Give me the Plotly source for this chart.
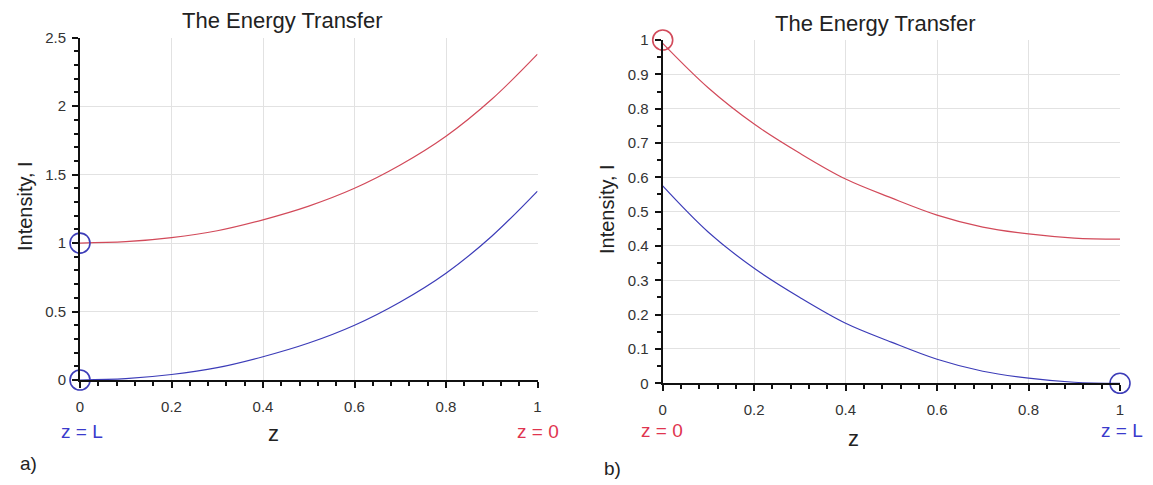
import plotly.graph_objects as go

W, H = 1153, 485
OFF = 8  # page body margin offset

# ---- data ----
z = [0.0, 0.1, 0.2, 0.3, 0.4, 0.5, 0.6, 0.7, 0.8, 0.9, 1.0]
a_red = [1.0, 1.01, 1.04, 1.09, 1.17, 1.27, 1.40, 1.57, 1.78, 2.05, 2.38]
a_blue = [0.0, 0.01, 0.04, 0.09, 0.17, 0.27, 0.40, 0.57, 0.78, 1.05, 1.38]
b_red = [0.99, 0.86, 0.755, 0.67, 0.595, 0.54, 0.49, 0.455, 0.435, 0.423, 0.42]
b_blue = [0.575, 0.44, 0.335, 0.25, 0.175, 0.12, 0.07, 0.035, 0.015, 0.003, 0.0]

a_blue_pts_x = [0, 0]
a_blue_pts_y = [1, 0]
b_red_pts_x = [0]
b_red_pts_y = [1]
b_blue_pts_x = [1]
b_blue_pts_y = [0]

x_vals = [0, 0.2, 0.4, 0.6, 0.8, 1]
x_text = ["0", "0.2", "0.4", "0.6", "0.8", "1"]
a_yvals = [0, 0.5, 1, 1.5, 2, 2.5]
a_ytext = ["0", "0.5", "1", "1.5", "2", "2.5"]
b_yvals = [0, 0.1, 0.2, 0.3, 0.4, 0.5, 0.6, 0.7, 0.8, 0.9, 1]
b_ytext = ["0", "0.1", "0.2", "0.3", "0.4", "0.5", "0.6", "0.7", "0.8", "0.9", "1"]

title_text = "The Energy Transfer"
ylab = "Intensity, I"
xlab = "z"

RED = "#d24a5a"
BLUE = "#3c3cb8"
RED_T = "#e0354f"
BLUE_T = "#3a3acc"
FONT = "Liberation Sans, Arial, sans-serif"


def px(x):
    return (x - OFF) / W


def py(y):
    return 1 - (y - OFF) / H


fig = go.Figure()


def curve(xs, ys, color, xa, ya):
    fig.add_trace(go.Scatter(x=xs, y=ys, xaxis=xa, yaxis=ya, mode="lines",
                             line=dict(width=1.2, shape="spline", color=color),
                             showlegend=False, hoverinfo="skip"))


def circles(xs, ys, color, xa, ya):
    fig.add_trace(go.Scatter(x=xs, y=ys, xaxis=xa, yaxis=ya, mode="markers",
                             marker=dict(symbol="circle-open", size=20, color=color,
                                         line=dict(width=1.6, color=color)),
                             cliponaxis=False, showlegend=False, hoverinfo="skip"))


curve(z, a_red, RED, "x", "y")
curve(z, a_blue, BLUE, "x", "y")
curve(z, b_red, RED, "x2", "y2")
curve(z, b_blue, BLUE, "x2", "y2")
circles(a_blue_pts_x, a_blue_pts_y, BLUE, "x", "y")
circles(b_red_pts_x, b_red_pts_y, RED, "x2", "y2")
circles(b_blue_pts_x, b_blue_pts_y, BLUE, "x2", "y2")

font_ticks = dict(family=FONT, size=15, color="#333333")


def common():
    return dict(showline=True, linecolor="#111111", linewidth=2, ticks="outside", ticklen=6,
                tickwidth=2, tickcolor="#111111", showgrid=True, gridcolor="#e2e2e2", gridwidth=1,
                zeroline=False, tickfont=font_ticks, automargin=False, fixedrange=True)


def xaxis(domain, anchor):
    d = common()
    d.update(domain=domain, anchor=anchor, range=[0, 1], tickvals=x_vals, ticktext=x_text,
             ticklabelstandoff=6,
             minor=dict(dtick=0.04, tick0=0, ticks="outside", ticklen=4, tickwidth=2,
                        tickcolor="#111111", showgrid=False))
    return d


def yaxis(domain, anchor, rng, vals, texts, mdt):
    d = common()
    d.update(domain=domain, anchor=anchor, range=rng, tickvals=vals, ticktext=texts,
             ticklabelstandoff=3,
             minor=dict(dtick=mdt, tick0=0, ticks="outside", ticklen=4, tickwidth=2,
                        tickcolor="#111111", showgrid=False))
    return d


fig.update_layout(
    width=W, height=H, margin=dict(l=0, r=0, t=0, b=0, pad=0, autoexpand=False),
    paper_bgcolor="white", plot_bgcolor="white", showlegend=False,
    xaxis=xaxis([px(80), px(537.5)], "y"),
    yaxis=yaxis([py(380), py(37.7)], "x", [0, 2.5], a_yvals, a_ytext, 0.1),
    xaxis2=xaxis([px(662.7), px(1120)], "y2"),
    yaxis2=yaxis([py(383.3), py(40)], "x2", [0, 1], b_yvals, b_ytext, 0.05),
)

ann = []


def add(text, x, y, size, color="#222222", angle=0):
    ann.append(dict(text=text, x=px(x), y=py(y), xref="paper", yref="paper", showarrow=False,
                    xanchor="center", yanchor="middle", textangle=angle,
                    font=dict(family=FONT, size=size, color=color)))


add(title_text, 282, 20, 22)
add(title_text, 875, 24, 22)
add(ylab, 25, 206, 20, angle=-90)
add(ylab, 607, 209, 20, angle=-90)
add(xlab, 273, 433, 22)
add(xlab, 853, 438, 22)
add("z = L", 82, 431, 19, BLUE_T)
add("z = 0", 538, 431, 19, RED_T)
add("z = 0", 662, 430, 19, RED_T)
add("z = L", 1122, 430, 19, BLUE_T)
add("a)", 28, 463, 19)
add("b)", 612, 468, 19)
fig.update_layout(annotations=ann)

fig.write_html("out.html")
